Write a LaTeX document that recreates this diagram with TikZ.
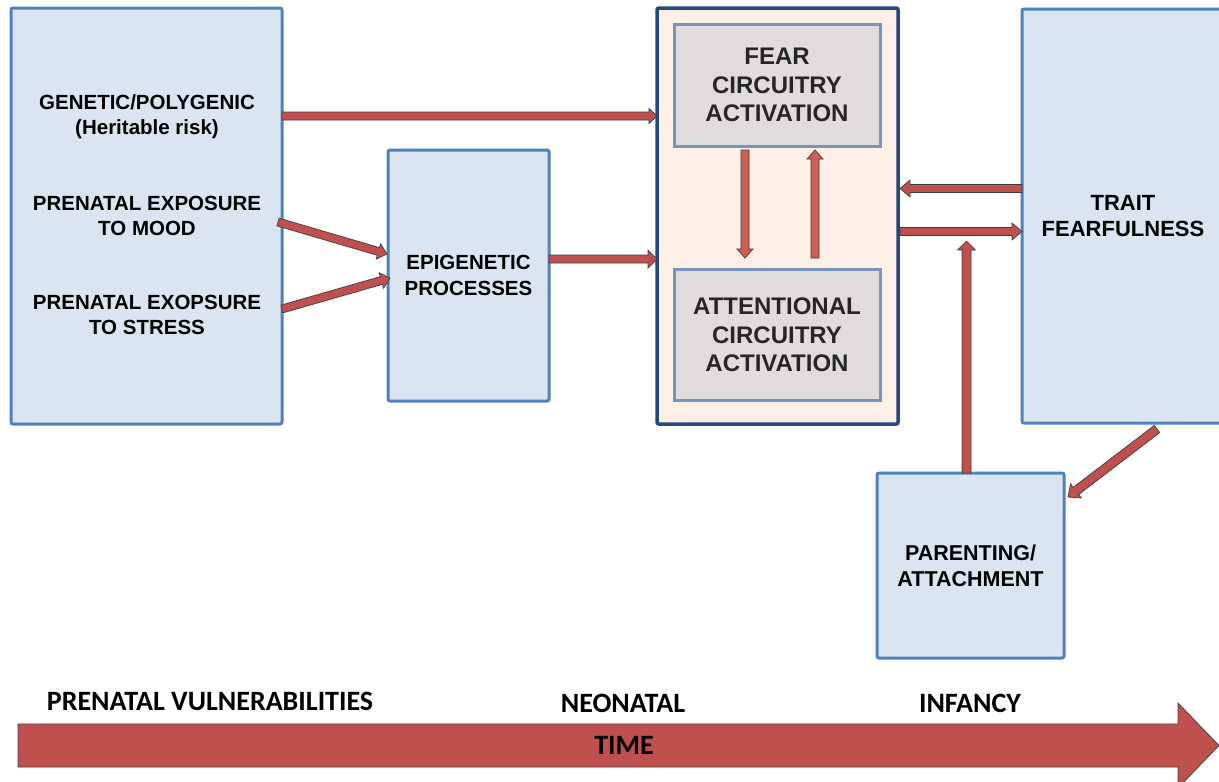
\documentclass[tikz,border=0pt]{standalone}
\usepackage{fontspec}
\setmainfont{Liberation Sans}
\newfontfamily\calfont{Carlito}
\usetikzlibrary{calc}
\definecolor{boxfill}{HTML}{DBE5F1}
\definecolor{boxline}{HTML}{4F81BD}
\definecolor{midfill}{HTML}{FDEFE6}
\definecolor{midline}{HTML}{244A7C}
\definecolor{innerfill}{HTML}{E1DCDC}
\definecolor{innerline}{HTML}{7894BE}
\definecolor{arrred}{HTML}{C0504D}
\definecolor{arrlight}{HTML}{CF5E56}
\definecolor{arrline}{HTML}{3F3F3F}
\definecolor{txtdark}{HTML}{262626}
\tikzset{
  bluebox/.style={draw=boxline, fill=boxfill, line width=3pt, rounded corners=2pt, inner sep=0pt, outer sep=0pt, anchor=north west},
  midbox/.style={draw=midline, fill=midfill, line width=3.5pt, rounded corners=2pt, inner sep=0pt, outer sep=0pt, anchor=north west},
  innerbox/.style={draw=innerline, fill=innerfill, line width=3pt, inner sep=0pt, outer sep=0pt, anchor=north west},
  blockarr/.style={draw=arrline, fill=arrred, line width=0.7pt, line join=miter},
  lbl/.style={align=center, font=\bfseries\fontsize{20.5}{25.5}\selectfont, text=black, inner sep=0pt},
  lblbig/.style={align=center, font=\bfseries\fontsize{24}{28.5}\selectfont, text=txtdark, inner sep=0pt},
  phase/.style={font=\calfont\bfseries\fontsize{28}{32}\selectfont, text=black, inner sep=0pt}
}
% from, to, half shaft, half head, head length
\newcommand\blockarrow[6][]{%
  \path (#2) coordinate (ba-s) (#3) coordinate (ba-e);
  \path ($(ba-e)!#6!(ba-s)$) coordinate (ba-h);
  \filldraw[blockarr,#1] ($(ba-s)!#4!90:(ba-e)$) -- ($(ba-h)!#4!90:(ba-e)$) -- ($(ba-h)!#5!90:(ba-e)$)
     -- (ba-e) -- ($(ba-h)!#5!-90:(ba-e)$) -- ($(ba-h)!#4!-90:(ba-e)$) -- ($(ba-s)!#4!-90:(ba-e)$) -- cycle;}
\begin{document}
\begin{tikzpicture}[x=1pt,y=-1pt]
\clip (0,0) rectangle (1219,782);
\fill[white] (0,0) rectangle (1219,782);
% boxes
\node[bluebox, minimum width=271, minimum height=416] (L) at (11,8) {};
\node[bluebox, minimum width=161, minimum height=251] (E) at (388,150) {};
\node[midbox, minimum width=241, minimum height=416] (M) at (657,8) {};
\node[innerbox, minimum width=206, minimum height=122] (F) at (674,24) {};
\node[innerbox, minimum width=206, minimum height=131] (A) at (674,269) {};
\node[bluebox, minimum width=215, minimum height=414] (T) at (1022,9) {};
\node[bluebox, minimum width=187, minimum height=185] (P) at (877,473) {};
% texts
\node[lbl] (tgen) at (147,116.5) {GENETIC/POLYGENIC\\(Heritable risk)};
\node[lbl] (tmood) at (147,216) {PRENATAL EXPOSURE\\TO MOOD};
\node[lbl] (tstress) at (147,315) {PRENATAL EXOPSURE\\TO STRESS};
\node[lbl] (tepi) at (468.5,275.5) {EPIGENETIC\\PROCESSES};
\node[lblbig] (tfear) at (777,85) {FEAR\\CIRCUITRY\\ACTIVATION};
\node[lblbig] (tatt) at (777,335) {ATTENTIONAL\\CIRCUITRY\\ACTIVATION};
\node[lbl, font=\bfseries\fontsize{22}{26}\selectfont] (ttrait) at (1123,216) {TRAIT\\FEARFULNESS};
\node[lbl, font=\bfseries\fontsize{21.5}{26}\selectfont] (tpar) at (970.5,566) {PARENTING/\\ATTACHMENT};
% arrow end points
\coordinate (g1) at (L.east |- 0,116);
\coordinate (g2) at (M.west |- 0,116);
\coordinate (m1) at (278,222);
\coordinate (m2) at (387,254);
\coordinate (s1) at (282,309);
\coordinate (s2) at (390,278);
\coordinate (e1) at (E.east |- 0,259);
\coordinate (e2) at (M.west |- 0,259);
\coordinate (fd1) at (745,150);
\coordinate (fd2) at (745,258);
\coordinate (fu1) at (815,258);
\coordinate (fu2) at (815,150);
\coordinate (tl1) at (T.west |- 0,188.5);
\coordinate (tl2) at (900,188.5);
\coordinate (tr1) at (900,231.5);
\coordinate (tr2) at (T.west |- 0,231.5);
\coordinate (pu1) at (966.5,473);
\coordinate (pu2) at (966.5,241);
\coordinate (dg1) at (1157,429);
\coordinate (dg2) at (1068,497);
\coordinate (time1) at (18,745.5);
\coordinate (time2) at (1219,745.5);
% arrows
\blockarrow{g1}{g2}{4pt}{7.5pt}{8pt}
\blockarrow{m1}{m2}{4pt}{8pt}{9pt}
\blockarrow{s1}{s2}{4pt}{8pt}{9pt}
\blockarrow{e1}{e2}{4pt}{9pt}{9pt}
\blockarrow[fill=arrlight]{fd1}{fd2}{4pt}{8pt}{9pt}
\blockarrow[fill=arrlight]{fu1}{fu2}{4pt}{8pt}{9pt}
\blockarrow{tl1}{tl2}{4pt}{8.5pt}{10pt}
\blockarrow{tr1}{tr2}{4pt}{8.5pt}{10pt}
\blockarrow{pu1}{pu2}{4.5pt}{9pt}{9pt}
\blockarrow{dg1}{dg2}{4.5pt}{9pt}{10pt}
\blockarrow{time1}{time2}{21.5pt}{42.5pt}{41pt}
% phase labels
\node[phase] (ph1) at (210,701) {PRENATAL VULNERABILITIES};
\node[phase] (ph2) at (623,703) {NEONATAL};
\node[phase] (ph3) at (970,703) {INFANCY};
\node[phase] (ph4) at (624,745) {TIME};
\end{tikzpicture}
\end{document}
